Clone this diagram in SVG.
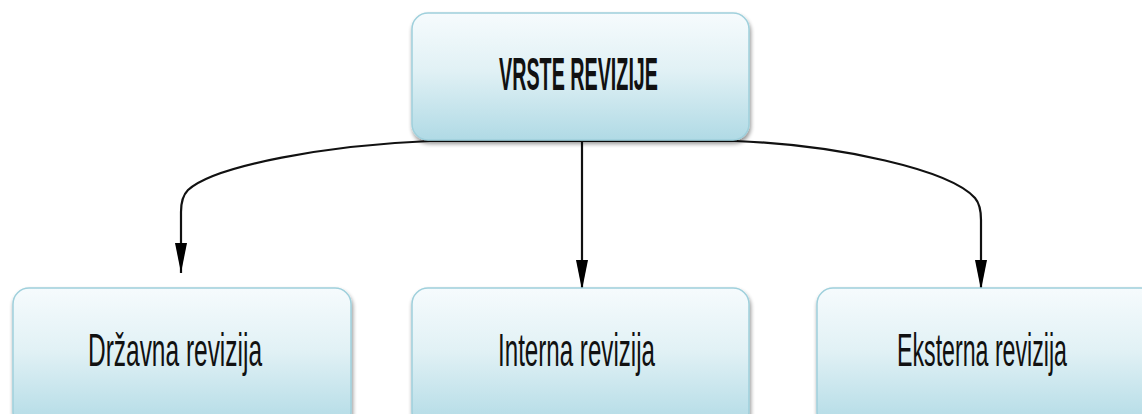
<svg xmlns="http://www.w3.org/2000/svg" width="1142" height="414" viewBox="0 0 1142 414">
<defs>
<linearGradient id="g" x1="0" y1="0" x2="0" y2="1">
<stop offset="0" stop-color="#f6fbfd"/>
<stop offset="0.45" stop-color="#e1f1f5"/>
<stop offset="1" stop-color="#b0dae5"/>
</linearGradient>
<filter id="sh" x="-5%" y="-10%" width="110%" height="130%">
<feGaussianBlur in="SourceAlpha" stdDeviation="2"/>
<feOffset dx="1" dy="3"/>
<feComponentTransfer><feFuncA type="linear" slope="0.45"/></feComponentTransfer>
<feMerge><feMergeNode/><feMergeNode in="SourceGraphic"/></feMerge>
</filter>
<marker id="arr" viewBox="0 0 30 12" refX="30" refY="6" markerWidth="30" markerHeight="12" markerUnits="userSpaceOnUse" orient="auto">
<path d="M0 0 L30 6 L0 12 Z" fill="#000"/>
</marker>
</defs>
<style>
.box{fill:url(#g);stroke:#9fd0dc;stroke-width:1.5;filter:url(#sh)}
.t{font-family:"Liberation Sans",Arial,sans-serif;font-size:46px;fill:#111;text-anchor:start}
.b{font-weight:bold}
.c{fill:none;stroke:#111;stroke-width:2.2}
</style>
<g id="connectors">
<path class="c" d="M582 141 L430 141 C330 145 215 165 188 190 Q181 197 181 212 L181 273" marker-end="url(#arr)"/>
<path class="c" d="M582 141 L582 290" marker-end="url(#arr)"/>
<path class="c" d="M582 141 L735 141 C840 145 950 170 975 198 Q981 205 981 220 L981 290" marker-end="url(#arr)"/>
</g>
<g id="vrste-revizije">
<rect class="box" x="412" y="13" width="337" height="127" rx="16"/>
<text class="t b" x="499" y="90" textLength="159" lengthAdjust="spacingAndGlyphs">VRSTE REVIZIJE</text>
</g>
<g id="drzavna-revizija">
<rect class="box" x="13" y="288" width="338" height="140" rx="16"/>
<text class="t" x="88" y="366" textLength="174" lengthAdjust="spacingAndGlyphs">Državna revizija</text>
</g>
<g id="interna-revizija">
<rect class="box" x="412" y="288" width="337" height="140" rx="16"/>
<text class="t" x="498" y="366" textLength="157" lengthAdjust="spacingAndGlyphs">Interna revizija</text>
</g>
<g id="eksterna-revizija">
<rect class="box" x="817" y="288" width="340" height="140" rx="16"/>
<text class="t" x="897" y="366" textLength="170" lengthAdjust="spacingAndGlyphs">Eksterna revizija</text>
</g>
</svg>
